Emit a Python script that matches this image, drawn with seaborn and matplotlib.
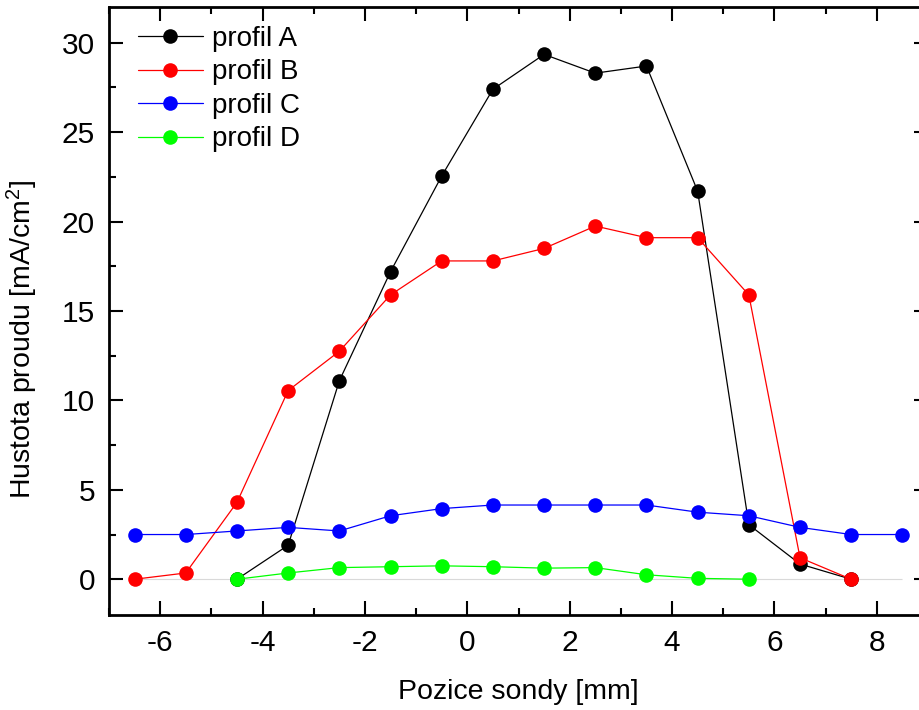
import numpy as np
import pandas as pd
import matplotlib
matplotlib.use("Agg")
import matplotlib.pyplot as plt
import seaborn as sns
from matplotlib.ticker import MultipleLocator

# data
x_a = [-4.5, -3.5, -2.5, -1.5, -0.5, 0.5, 1.5, 2.5, 3.5, 4.5, 5.5, 6.5, 7.5]
y_a = [0.0, 1.9, 11.1, 17.2, 22.55, 27.4, 29.35, 28.3, 28.7, 21.7, 3.05, 0.85, 0.0]

x_b = [-6.5, -5.5, -4.5, -3.5, -2.5, -1.5, -0.5, 0.5, 1.5, 2.5, 3.5, 4.5, 5.5, 6.5, 7.5]
y_b = [0.0, 0.35, 4.3, 10.55, 12.75, 15.9, 17.8, 17.8, 18.5, 19.75, 19.1, 19.1, 15.9, 1.2, 0.0]

x_c = [-6.5, -5.5, -4.5, -3.5, -2.5, -1.5, -0.5, 0.5, 1.5, 2.5, 3.5, 4.5, 5.5, 6.5, 7.5, 8.5]
y_c = [2.5, 2.5, 2.7, 2.9, 2.7, 3.55, 3.95, 4.15, 4.15, 4.15, 4.15, 3.75, 3.55, 2.9, 2.5, 2.5]

x_d = [-4.5, -3.5, -2.5, -1.5, -0.5, 0.5, 1.5, 2.5, 3.5, 4.5, 5.5]
y_d = [0.0, 0.35, 0.65, 0.7, 0.75, 0.7, 0.62, 0.65, 0.25, 0.05, 0.0]

labels = ["profil A", "profil B", "profil C", "profil D"]
colors = ["#000000", "#ff0000", "#0000ff", "#00ff00"]

frames = []
for lab, xs, ys in zip(labels, [x_a, x_b, x_c, x_d], [y_a, y_b, y_c, y_d]):
    frames.append(pd.DataFrame({"x": xs, "y": ys, "profil": lab}))
df = pd.concat(frames, ignore_index=True)

sns.set_style("ticks")
plt.rcParams["font.family"] = ["Liberation Sans", "DejaVu Sans"]
plt.rcParams["mathtext.default"] = "regular"
plt.rcParams["axes.unicode_minus"] = False
plt.rcParams["text.color"] = "black"
plt.rcParams["axes.labelcolor"] = "black"
plt.rcParams["xtick.color"] = "black"
plt.rcParams["ytick.color"] = "black"

fig = plt.figure(figsize=(9.19, 7.10), dpi=100)
ax = fig.add_axes([109 / 919, 95 / 710, 819 / 919, 608 / 710])

# light baseline at zero
ax.hlines(0, min(x_c), max(x_c), color="#d9d9d9", linewidth=0.8, zorder=1)

for i, (lab, col) in enumerate(zip(labels, colors)):
    sub = df[df["profil"] == lab]
    sns.lineplot(data=sub, x="x", y="y", color=col, marker="o", markersize=10.5,
                 markeredgewidth=0, linewidth=0.9, ax=ax, label=lab,
                 zorder=3 + i)

ax.set_xlim(-7, 9)
ax.set_ylim(-2, 32)
ax.xaxis.set_major_locator(MultipleLocator(2))
ax.xaxis.set_minor_locator(MultipleLocator(1))
ax.yaxis.set_major_locator(MultipleLocator(5))
ax.yaxis.set_minor_locator(MultipleLocator(2.5))
ax.tick_params(which="both", direction="in", top=True, right=True,
               width=1.5, labelsize=21.5, color="black", labelcolor="black")
ax.tick_params(which="major", length=10, pad=10)
ax.tick_params(which="minor", length=5)
for s in ax.spines.values():
    s.set_linewidth(2)
    s.set_color("black")

ax.set_xlabel("Pozice sondy [mm]", fontsize=20.5, labelpad=16)
ax.set_ylabel("Hustota proudu [mA/cm$^{2}$]", fontsize=20.5)
ax.yaxis.set_label_coords(-0.084, 0.454)

ax.legend(loc="upper left", bbox_to_anchor=(0.035, 0.969), frameon=False,
          fontsize=20, handlelength=2.34, handletextpad=0.32,
          labelspacing=0.27, borderaxespad=0, borderpad=0)

fig.savefig("out.png", dpi=100)
